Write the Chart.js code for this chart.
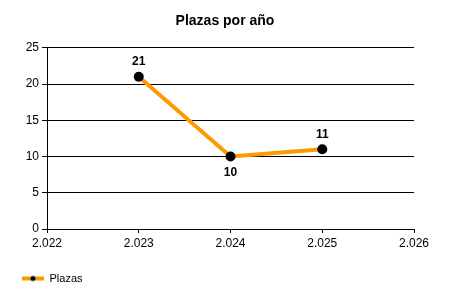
<!DOCTYPE html>
<html>
<head>
<meta charset="utf-8">
<script src="https://cdn.jsdelivr.net/npm/chart.js@4"></script>
<style>
  html, body { margin: 0; padding: 0; background: #fff; }
  #wrap { width: 450px; height: 300px; }
</style>
</head>
<body>
<div id="wrap"><canvas id="chart" width="450" height="300"></canvas></div>
<script>
const years = [2023, 2024, 2025];
const plazas = [21, 10, 11];
const xTicks = [2022, 2023, 2024, 2025, 2026];
const yTicks = [0, 5, 10, 15, 20, 25];

const FONT = '"Liberation Sans", Arial, sans-serif';
const ORANGE = '#ff9900';

// legend marker: orange line with a black dot (12px empty margin on the left)
const marker = document.createElement('canvas');
marker.width = 34; marker.height = 8;
(function () {
  const c = marker.getContext('2d');
  c.strokeStyle = ORANGE; c.lineWidth = 4;
  c.beginPath(); c.moveTo(12, 4); c.lineTo(34, 4); c.stroke();
  c.fillStyle = '#000';
  c.beginPath(); c.arc(23, 4, 2.5, 0, Math.PI * 2); c.fill();
})();

const fmtThousands = v => {
  const s = String(Math.round(v));
  return s.length > 3 ? s.slice(0, s.length - 3) + '.' + s.slice(-3) : s;
};

const valueLabels = {
  id: 'valueLabels',
  afterDatasetsDraw(chart) {
    const ctx = chart.ctx;
    const meta = chart.getDatasetMeta(0);
    const data = chart.data.datasets[0].data;
    ctx.save();
    ctx.font = 'bold 12px ' + FONT;
    ctx.fillStyle = '#000';
    ctx.textAlign = 'center';
    ctx.textBaseline = 'middle';
    meta.data.forEach((pt, i) => {
      const v = data[i].y;
      const prev = i > 0 ? data[i - 1].y : null;
      const below = prev !== null && prev > v;
      ctx.fillText(String(v), pt.x, below ? pt.y + 16 : pt.y - 15);
    });
    ctx.restore();
  }
};

new Chart(document.getElementById('chart'), {
  type: 'line',
  data: {
    datasets: [{
      label: 'Plazas',
      data: years.map((y, i) => ({ x: y, y: plazas[i] })),
      borderColor: ORANGE,
      borderWidth: 4,
      pointStyle: 'circle',
      pointRadius: 5,
      pointBackgroundColor: '#000',
      pointBorderColor: '#000',
      pointBorderWidth: 0,
      tension: 0
    }]
  },
  options: {
    responsive: false,
    animation: false,
    layout: { padding: { left: 0, right: 0, top: 0, bottom: 6 } },
    scales: {
      x: {
        type: 'linear',
        min: 2022, max: 2026,
        afterBuildTicks: s => { s.ticks = xTicks.map(v => ({ value: v })); },
        border: { display: true, color: '#000', width: 1 },
        grid: { drawOnChartArea: false, drawTicks: true, tickLength: 4, color: '#000' },
        ticks: {
          color: '#000', font: { family: FONT, size: 12 }, padding: 3,
          maxRotation: 0, autoSkip: false,
          callback: v => fmtThousands(v)
        },
        afterFit: s => { s.height = 34; }
      },
      y: {
        min: 0, max: 25,
        afterBuildTicks: s => { s.ticks = yTicks.map(v => ({ value: v })); },
        border: { display: true, color: '#000', width: 1 },
        grid: { color: '#000', drawTicks: true, tickLength: 5 },
        ticks: { color: '#000', font: { family: FONT, size: 12 }, padding: 3 },
        afterFit: s => { s.width = 47; }
      },
      // empty right-hand axis that only reserves space
      yRight: {
        position: 'right',
        display: true,
        min: 0, max: 25,
        border: { display: false },
        grid: { display: false, drawTicks: false },
        ticks: { display: false },
        afterFit: s => { s.width = 36; }
      }
    },
    plugins: {
      title: {
        display: true,
        text: 'Plazas por año',
        color: '#000',
        font: { family: FONT, size: 14, weight: 'bold' },
        padding: { top: 13, bottom: 18 }
      },
      legend: {
        display: true,
        position: 'bottom',
        align: 'start',
        labels: {
          color: '#000',
          font: { family: FONT, size: 11 },
          usePointStyle: true,
          pointStyleWidth: 34,
          padding: 10,
          generateLabels: chart => chart.data.datasets.map((ds, i) => ({
            text: ds.label,
            pointStyle: marker,
            fillStyle: ORANGE,
            strokeStyle: ORANGE,
            lineWidth: 0,
            datasetIndex: i,
            hidden: false
          }))
        }
      },
      tooltip: { enabled: false }
    }
  },
  plugins: [valueLabels]
});
</script>
</body>
</html>
